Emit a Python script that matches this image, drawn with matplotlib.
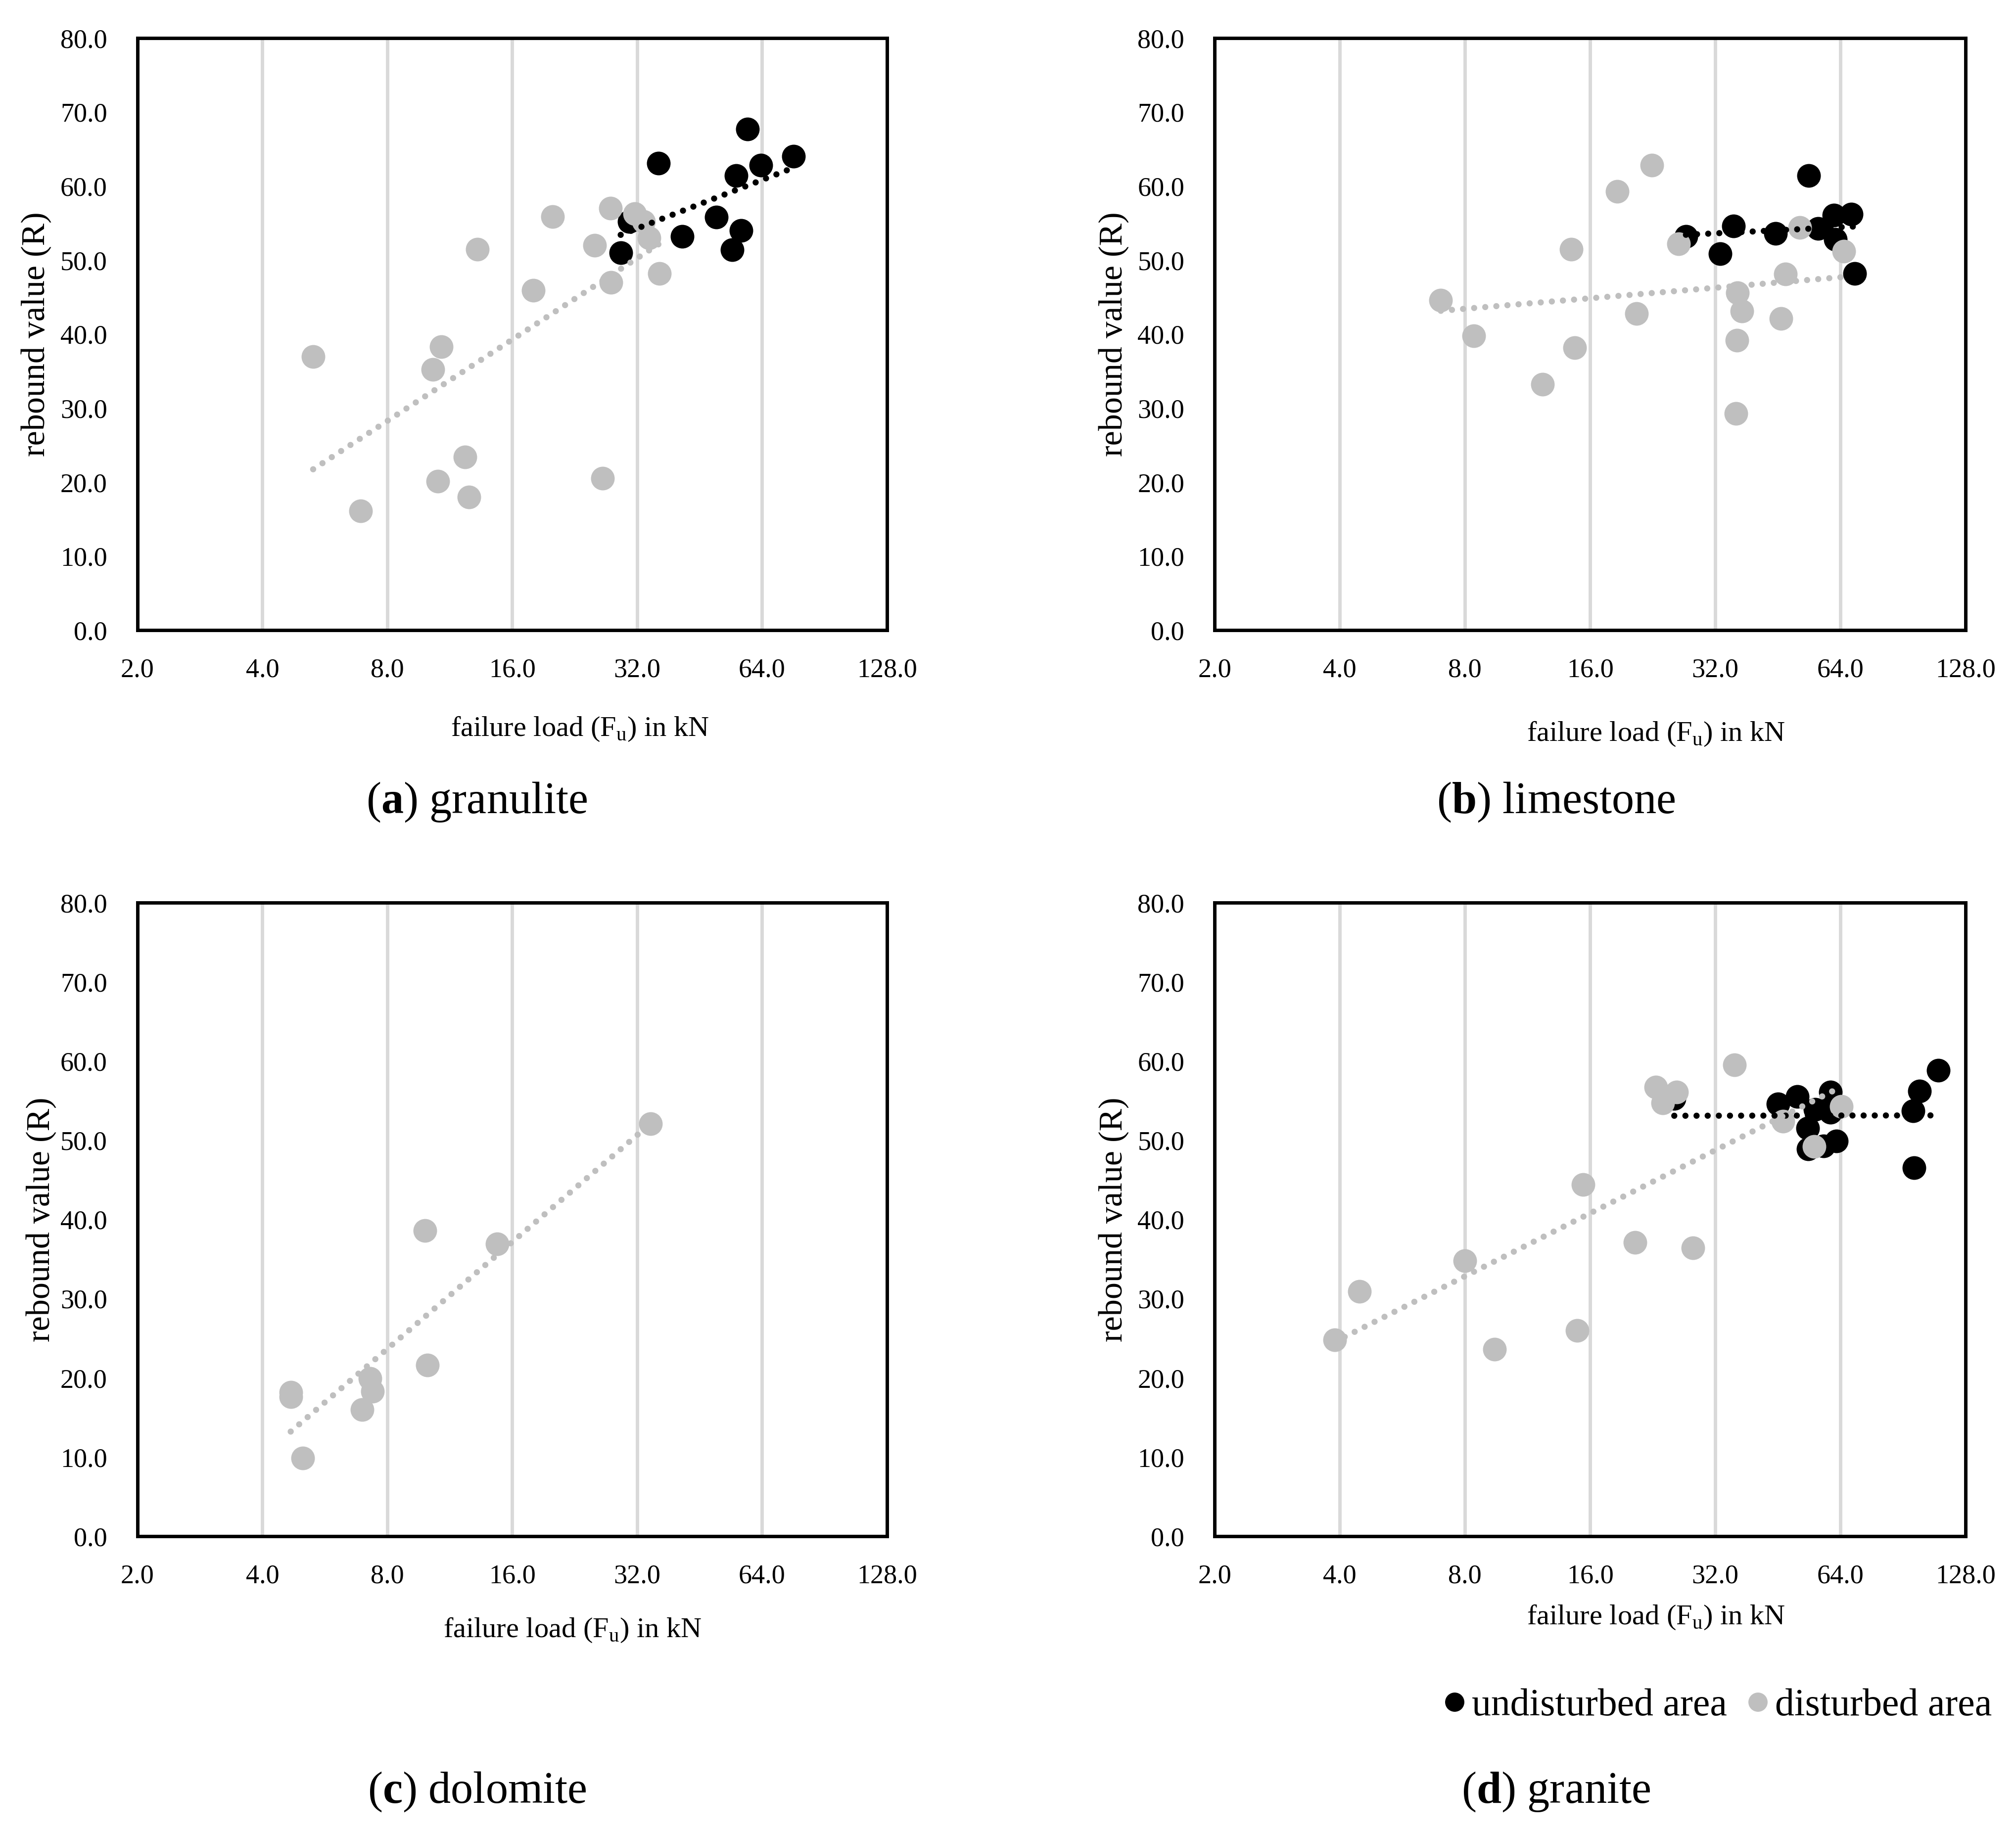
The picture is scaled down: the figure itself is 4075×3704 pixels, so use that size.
import numpy as np
import matplotlib
matplotlib.use('Agg')
import matplotlib.pyplot as plt
from matplotlib.lines import Line2D

plt.rcParams['font.family'] = ['Liberation Serif', 'DejaVu Serif']
plt.rcParams['mathtext.fontset'] = 'custom'
plt.rcParams['mathtext.rm'] = 'Liberation Serif'
plt.rcParams['mathtext.bf'] = 'Liberation Serif:bold'

## data (failure load in kN, rebound value R)
# (a) granulite
gra_und_x = [29.2, 30.6, 36.0, 41.1, 49.7, 54.2, 55.4, 57.0, 59.0, 63.6, 76.2]
gra_und_y = [51.0, 55.2, 63.1, 53.2, 55.8, 51.4, 61.4, 54.0, 67.7, 62.8, 64.0]
gra_dis_x = [5.3, 6.9, 10.3, 10.8, 10.6, 12.3, 12.6, 13.2, 18.0, 20.0, 25.3, 26.4,
             27.6, 27.7, 31.6, 33.2, 34.2, 36.2]
gra_dis_y = [37.0, 16.1, 35.2, 38.3, 20.1, 23.4, 18.0, 51.5, 45.9, 55.9, 52.0, 20.5,
             57.0, 47.0, 56.3, 55.2, 53.0, 48.2]

# (b) limestone
lim_und_x = [27.2, 32.9, 35.4, 44.7, 53.7, 56.6, 61.8, 62.3, 68.0, 69.3]
lim_und_y = [53.2, 50.9, 54.6, 53.6, 61.4, 54.3, 56.1, 52.8, 56.2, 48.2]
lim_dis_x = [7.0, 8.4, 12.3, 14.4, 14.7, 18.6, 20.7, 22.5, 26.1, 36.2, 37.1, 36.1,
             35.9, 46.1, 47.2, 51.1, 65.3]
lim_dis_y = [44.6, 39.8, 33.2, 51.5, 38.2, 59.3, 42.8, 62.8, 52.2, 45.6, 43.1, 39.2,
             29.3, 42.1, 48.1, 54.4, 51.2]

# (c) dolomite (only disturbed area)
dol_und_x = []
dol_und_y = []
dol_dis_x = [4.68, 4.68, 5.0, 6.96, 7.27, 7.37, 9.85, 9.98, 14.7, 34.5]
dol_dis_y = [18.2, 17.6, 9.9, 16.0, 19.9, 18.3, 38.6, 21.6, 36.9, 52.1]

# (d) granite
grn_und_x = [25.5, 45.3, 50.4, 53.4, 53.5, 55.6, 58.3, 60.5, 60.6, 62.6, 95.7, 96.2,
             99.2, 110.0]
grn_und_y = [55.3, 54.6, 55.5, 51.5, 48.9, 53.9, 49.3, 53.5, 56.1, 49.9, 53.7, 46.5,
             56.2, 58.8]
grn_dis_x = [3.89, 4.46, 8.0, 9.43, 14.9, 15.4, 20.5, 23.0, 23.9, 25.8, 28.3, 35.6,
             46.6, 55.3, 64.4]
grn_dis_y = [24.8, 30.9, 34.8, 23.6, 26.0, 44.4, 37.1, 56.7, 54.7, 56.1, 36.4, 59.5,
             52.4, 49.2, 54.3]

x_ticks = [2, 4, 8, 16, 32, 64, 128]
y_ticks = [0, 10, 20, 30, 40, 50, 60, 70, 80]

black = '#000000'
grey = '#BFBFBF'

fig = plt.figure(figsize=(40.75, 37.04), dpi=100)

# axes boxes in figure fractions [left, bottom, width, height]
panels = [
    ([0.0682, 0.6560, 0.3718, 0.3232], gra_und_x, gra_und_y, gra_dis_x, gra_dis_y,
     (0.0179, 0.2876, 0.6021), (0.2366, 0.5621), 'a', 'granulite'),
    ([0.6025, 0.6560, 0.3725, 0.3232], lim_und_x, lim_und_y, lim_dis_x, lim_dis_y,
     (0.5524, 0.8214, 0.5994), (0.7718, 0.5621), 'b', 'limestone'),
    ([0.0682, 0.1614, 0.3718, 0.3459], dol_und_x, dol_und_y, dol_dis_x, dol_dis_y,
     (0.0204, 0.2839, 0.1102), (0.2366, 0.0219), 'c', 'dolomite'),
    ([0.6025, 0.1614, 0.3725, 0.3459], grn_und_x, grn_und_y, grn_dis_x, grn_dis_y,
     (0.5524, 0.8214, 0.1172), (0.7718, 0.0219), 'd', 'granite'),
]


def log_trend(ax, x, y, color):
    # Excel style logarithmic trendline y = a*ln(x) + b over the data range
    x = np.asarray(x, dtype=float)
    y = np.asarray(y, dtype=float)
    a, b = np.polyfit(np.log(x), y, 1)
    xs = np.exp(np.linspace(np.log(x.min()), np.log(x.max()), 200))
    ax.plot(xs, a * np.log(xs) + b, color=color, lw=9.0,
            linestyle=(0, (0.001, 1.8)), dash_capstyle='round', zorder=5)


for box, ux, uy, dx, dy, lab, cap, letter, name in panels:
    ax = fig.add_axes(box)
    if len(ux) > 0:
        ax.plot(ux, uy, 'o', color=black, ms=34.5, mew=0, zorder=3)
    ax.plot(dx, dy, 'o', color=grey, ms=34.5, mew=0, zorder=4)
    if len(ux) > 1:
        log_trend(ax, ux, uy, black)
    log_trend(ax, dx, dy, grey)

    ax.set_xscale('log', base=2)
    ax.set_xlim(2, 128)
    ax.set_ylim(0, 80)
    ax.set_xticks(x_ticks)
    ax.set_xticklabels(['%.1f' % t for t in x_ticks])
    ax.minorticks_off()
    ax.set_yticks(y_ticks)
    ax.set_yticklabels(['%.1f' % t for t in y_ticks])
    ax.tick_params(length=0, labelsize=39)
    ax.tick_params(axis='y', pad=44)
    ax.tick_params(axis='x', pad=40)
    ax.grid(axis='x', color='#D9D9D9', lw=5, zorder=0)
    ax.set_axisbelow(True)
    for s in ax.spines.values():
        s.set_linewidth(5)
        s.set_color('black')

    ycen = box[1] + box[3] / 2
    fig.text(lab[0], ycen, 'rebound value (R)', rotation=90, fontsize=49,
             ha='center', va='center')
    fig.text(lab[1], lab[2], r'failure load (F$_\mathrm{u}$) in kN', fontsize=42,
             ha='center', va='center')
    fig.text(cap[0], cap[1], r'($\mathbf{%s}$) %s' % (letter, name), fontsize=65,
             ha='center', va='center')

handles = [Line2D([], [], marker='o', ls='none', color=black, ms=28, mew=0),
           Line2D([], [], marker='o', ls='none', color=grey, ms=28, mew=0)]
fig.legend(handles, ['undisturbed area', 'disturbed area'], loc='center',
           bbox_to_anchor=(0.851, 0.0688), ncol=2, frameon=False, fontsize=56,
           handletextpad=0.05, columnspacing=0.4, handlelength=0.8)

plt.savefig('out.png', dpi=100)
